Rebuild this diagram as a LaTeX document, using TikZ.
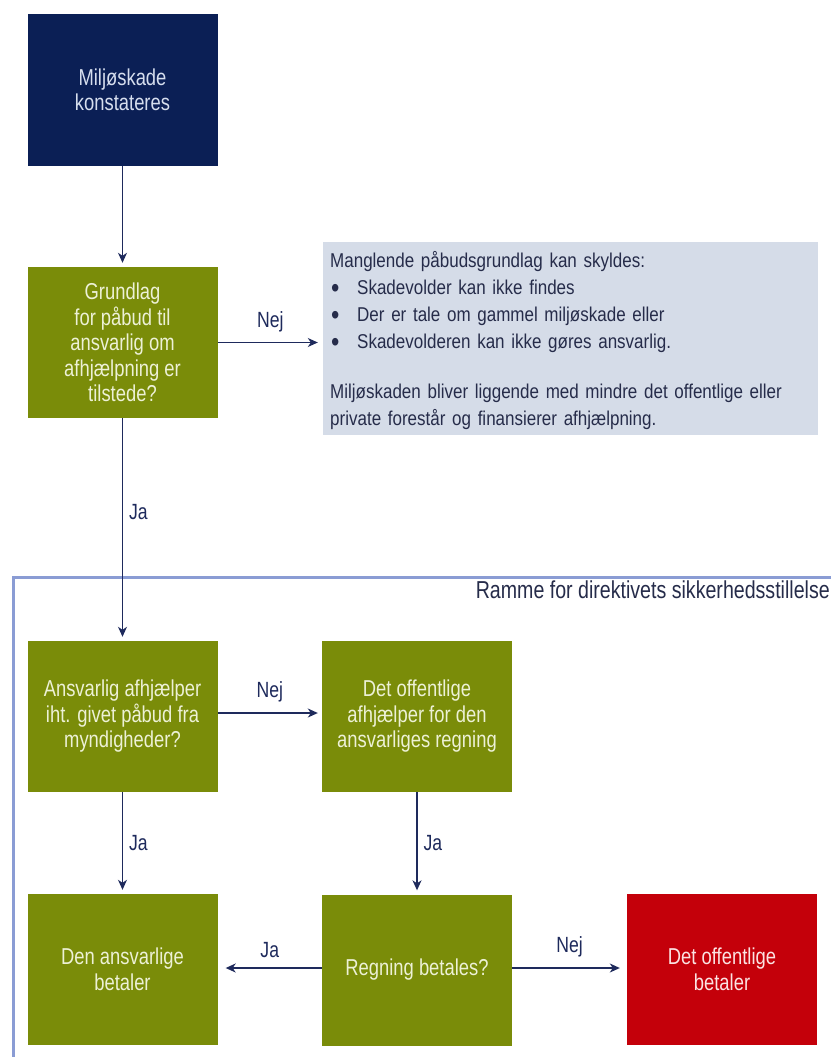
\documentclass[tikz,border=0pt]{standalone}
\usepackage{fontspec}
\setmainfont{Liberation Sans}[FakeStretch=0.8]
\newfontfamily\infofont{Liberation Sans}[FakeStretch=0.85]
\usetikzlibrary{arrows.meta}
\definecolor{navy}{HTML}{0B1F55}
\definecolor{olive}{HTML}{7A8C09}
\definecolor{redbox}{HTML}{C4000A}
\definecolor{infobg}{HTML}{D5DCE8}
\definecolor{framec}{HTML}{8A9CD4}
\definecolor{arrowc}{HTML}{1E2A5C}
\definecolor{textdark}{HTML}{262C4A}
\definecolor{greentext}{HTML}{EDF1D6}
\definecolor{navytext}{HTML}{D6DEEE}
\definecolor{redtext}{HTML}{FBE3E3}
\newcommand{\infobullet}{\makebox[27pt][l]{\hspace{1pt}\raisebox{-3.5pt}{\fontsize{28}{27}\selectfont•}}}
\begin{document}
\begin{tikzpicture}[x=1pt,y=-1pt,
  flowbox/.style={minimum width=190pt,minimum height=151pt,inner sep=0pt,
    align=center,font=\fontsize{23}{25.5}\selectfont},
  greenbox/.style={flowbox,fill=olive,text=greentext},
  navybox/.style={flowbox,fill=navy,text=navytext},
  redbox/.style={flowbox,fill=redbox,text=redtext},
  conn/.style={draw=arrowc,line width=1.3pt,-{Stealth[length=10pt,width=9pt,inset=3pt]},shorten >=4pt},
  lbl/.style={text=arrowc,font=\fontsize{22}{24}\selectfont,inner sep=2pt}]
\useasboundingbox (0,0) rectangle (830,1057);
\fill[white] (0,0) rectangle (830,1057);
% frame
\draw[framec,line width=3pt] (835,577) -- (13,577) -- (13,1062);
\node[anchor=east,text=textdark,font=\fontsize{24.5}{26}\selectfont,inner sep=0pt] (frlbl) at (830,590) {Ramme for direktivets sikkerhedsstillelse};
% nodes
\node[navybox] (start) at (122.5,90) {Miljøskade\\konstateres};
\node[greenbox] (grund) at (122.5,342.5) {Grundlag\\for påbud til\\ansvarlig om\\afhjælpning er\\tilstede?};
\node[fill=infobg,minimum width=495pt,minimum height=193pt,inner sep=0pt] (info) at (570.5,338) {};
\node[anchor=north west,inner xsep=0pt,inner ysep=0pt,text width=485pt,align=left,text=textdark,
  font=\infofont\fontsize{20}{27}\selectfont] (infotxt) at (330,251)
  {Manglende påbudsgrundlag kan skyldes:\\
   \infobullet Skadevolder kan ikke findes\\
   \infobullet Der er tale om gammel miljøskade eller\\
   \infobullet Skadevolderen kan ikke gøres ansvarlig.\\[23pt]
   Miljøskaden bliver liggende med mindre det offentlige eller\\
   private forestår og finansierer afhjælpning.};
\node[greenbox] (ansv) at (122.5,716.5) {Ansvarlig afhjælper\\iht. givet påbud fra\\myndigheder?};
\node[greenbox] (offa) at (417,716.5) {Det offentlige\\afhjælper for den\\ansvarliges regning};
\node[greenbox] (denans) at (122.5,969.5) {Den ansvarlige\\betaler};
\node[greenbox] (regn) at (417,970) {Regning betales?};
\node[redbox] (offb) at (722,969.5) {Det offentlige\\betaler};
% connectors
\draw[conn] (start) -- (grund);
\draw[conn,shorten >=5pt] (grund.east) -- (grund.east -| info.west) node[lbl,midway,above=8pt] {Nej};
\draw[conn] (grund) -- (ansv) node[lbl,pos=0.42,right=4pt] {Ja};
\draw[conn] ([yshift=3.5pt]ansv.east) -- ([yshift=3.5pt]offa.west) node[lbl,midway,above=8pt] {Nej};
\draw[conn] (ansv) -- (denans) node[lbl,midway,right=4pt] {Ja};
\draw[conn] (offa) -- (regn) node[lbl,midway,right=4pt] {Ja};
\draw[conn,shorten >=8pt] ([yshift=2pt]regn.west) -- ([yshift=2pt]regn.west -| denans.east) node[lbl,midway,above=8pt] {Ja};
\draw[conn,shorten >=7pt] ([yshift=2pt]regn.east) -- ([yshift=2pt]regn.east -| offb.west) node[lbl,midway,above=8pt] {Nej};
\end{tikzpicture}
\end{document}
